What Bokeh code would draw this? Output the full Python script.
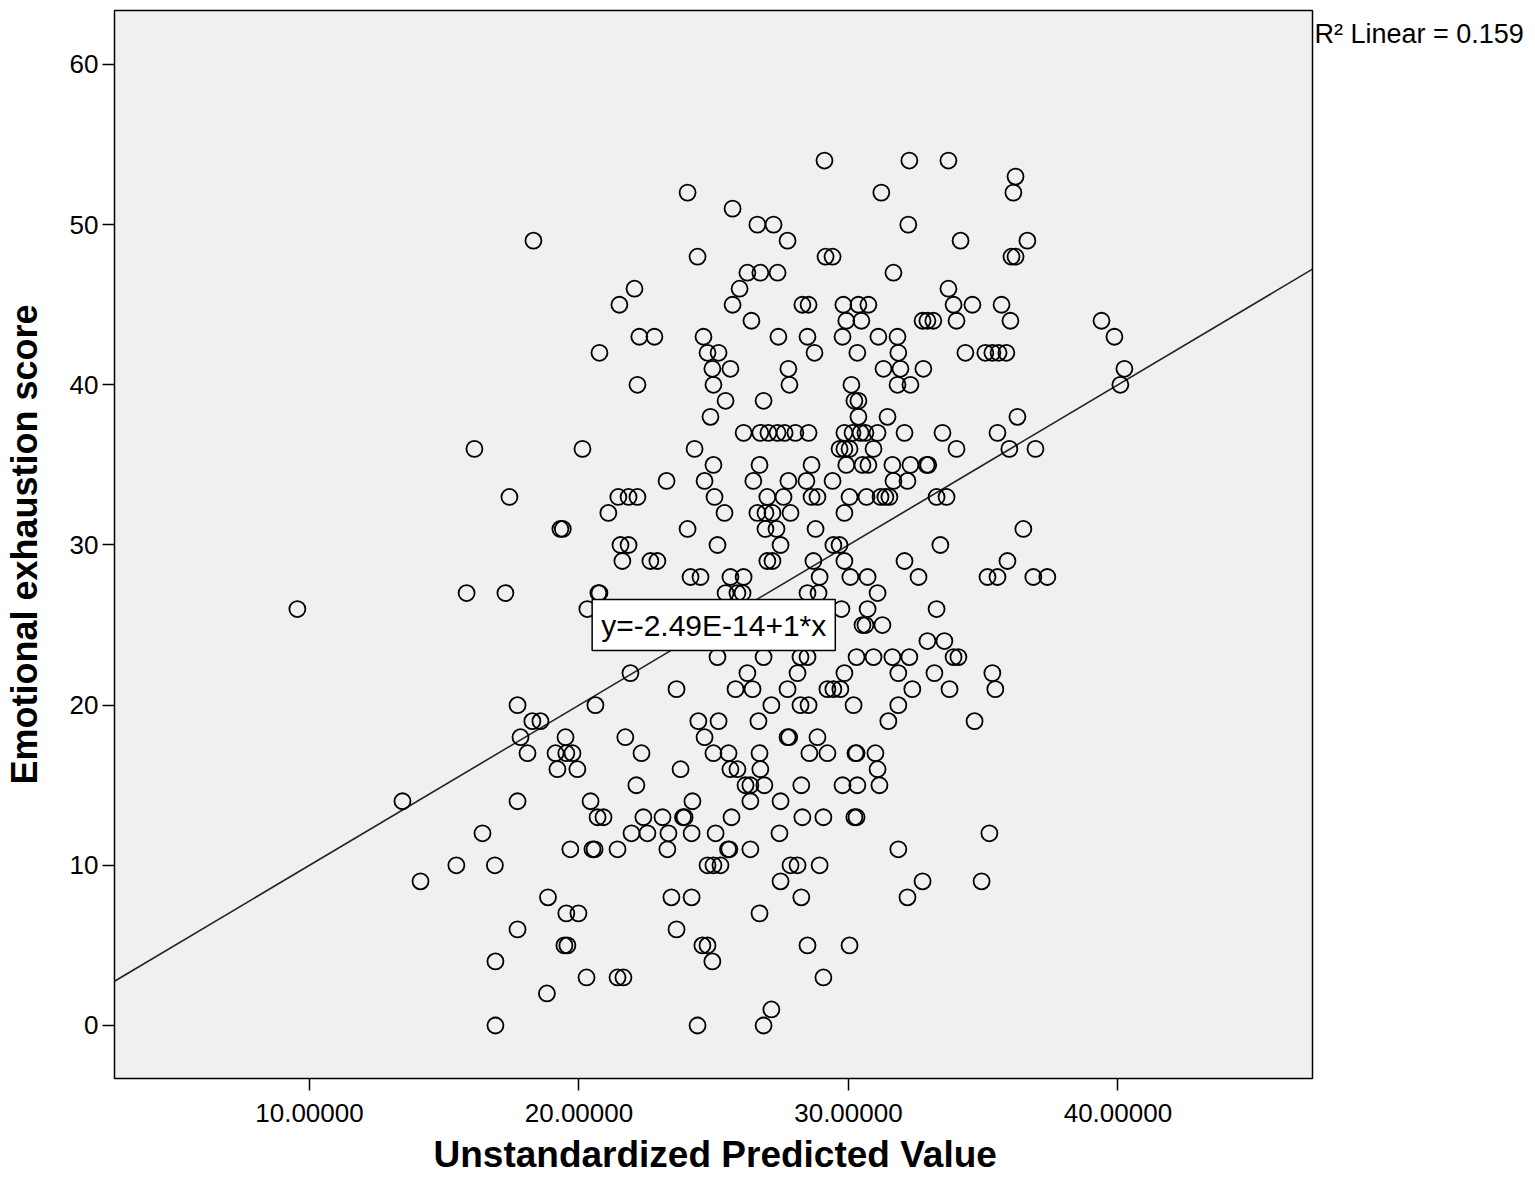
from bokeh.plotting import figure
from bokeh.models import Range1d, FixedTicker, PrintfTickFormatter, Label, Title
from bokeh.embed import file_html
from bokeh.resources import INLINE

# Unstandardized predicted value (x) for each case, grouped by score level
predicted_value = [
    29.11, 32.26, 33.71,
    36.20,
    24.03, 31.22, 36.12,
    25.70,
    26.62, 27.22, 32.22,
    18.31, 27.74, 34.16, 36.64,
    24.40, 29.15, 29.41, 36.05, 36.20,
    26.25, 26.73, 27.37, 31.67,
    22.06, 25.96, 33.71,
    21.50, 25.70, 28.29, 28.52, 29.81, 30.37, 30.74, 33.90, 34.60, 35.68,
    26.40, 29.92, 30.48, 32.75, 32.93, 33.15, 34.01, 36.01, 39.39,
    22.24, 22.80, 24.62, 27.40, 28.48, 29.78, 31.11, 31.82, 39.87,
    20.76, 24.77, 25.18, 28.74, 30.33, 31.85, 34.34, 35.08, 35.34, 35.57, 35.86,
    24.95, 25.62, 27.77, 31.30, 31.93, 32.78, 40.24,
    22.17, 24.99, 27.81, 30.11, 31.82, 32.30, 40.09,
    25.44, 26.85, 30.22, 30.37,
    24.88, 30.37, 31.45, 36.27,
    26.11, 26.73, 27.03, 27.37, 27.63, 28.03, 28.52, 29.85, 30.15, 30.45, 30.63, 31.08, 32.08, 33.49, 35.53,
    16.12, 20.13, 24.29, 29.67, 29.85, 30.04, 30.93, 34.01, 35.97, 36.94,
    24.99, 26.70, 28.63, 29.92, 30.52, 30.74, 31.63, 32.30, 32.90, 32.96,
    23.25, 24.66, 26.47, 27.77, 28.44, 29.41, 31.67, 32.19,
    17.42, 21.46, 21.84, 22.17, 25.03, 26.99, 27.59, 28.63, 28.85, 30.04, 30.67, 31.19, 31.37, 31.52, 33.27, 33.64,
    21.09, 25.40, 26.62, 26.92, 27.18, 27.85, 29.85,
    19.31, 19.40, 24.03, 26.92, 27.33, 28.78, 36.49,
    21.54, 21.84, 25.14, 27.48, 29.44, 29.67, 33.41,
    21.61, 22.65, 22.91, 26.99, 27.18, 28.70, 29.85, 32.08, 35.90,
    24.14, 24.51, 25.62, 26.11, 28.93, 30.07, 30.71, 32.60, 35.16, 35.53, 36.86, 37.38,
    15.83, 17.27, 20.72, 20.76, 25.44, 25.88, 26.07, 28.48, 28.89, 31.08,
    9.55, 20.31, 29.74, 30.71, 33.27,
    30.52, 30.63, 31.26,
    32.93, 33.56,
    25.14, 26.85, 28.22, 28.48, 30.30, 30.93, 31.63, 32.26, 33.90, 34.08,
    21.91, 26.25, 28.11, 29.85, 31.85, 33.19, 35.34,
    23.62, 25.81, 26.44, 27.74, 29.22, 29.44, 29.70, 32.37, 33.75, 35.45,
    17.72, 20.61, 27.14, 28.22, 28.52, 30.19, 31.85,
    18.27, 18.57, 24.43, 25.18, 26.66, 31.48, 34.68,
    17.83, 19.50, 21.72, 24.66, 27.74, 27.80, 28.85,
    18.09, 19.13, 19.53, 19.76, 22.32, 24.99, 25.55, 26.70, 28.55, 29.22, 30.26, 30.30, 31.00,
    19.20, 19.94, 23.77, 25.62, 25.88, 26.73, 31.08,
    22.13, 26.18, 26.36, 26.88, 28.25, 29.78, 30.33, 31.15,
    13.45, 17.72, 20.43, 24.21, 26.36, 27.48,
    20.69, 20.91, 22.39, 23.10, 23.86, 23.92, 25.66, 28.29, 29.07, 30.22, 30.30,
    16.42, 21.95, 22.54, 23.32, 24.18, 25.07, 27.44, 35.23,
    19.68, 20.50, 20.58, 21.43, 23.28, 25.53, 25.58, 26.36, 31.85,
    15.45, 16.88, 24.77, 24.99, 25.25, 27.85, 28.11, 28.93,
    14.12, 27.48, 32.75, 34.94,
    18.85, 23.43, 24.18, 28.25, 32.19,
    19.53, 19.98, 26.70,
    17.72, 23.62,
    19.46, 19.57, 24.58, 24.77, 28.48, 30.04,
    16.90, 24.95,
    20.28, 21.43, 21.65, 29.07,
    18.81,
    27.14,
    16.90, 24.40, 26.85,
]

# Emotional exhaustion score (y) for each case, same order
exhaustion_score = [
    54, 54, 54,
    53,
    52, 52, 52,
    51,
    50, 50, 50,
    49, 49, 49, 49,
    48, 48, 48, 48, 48,
    47, 47, 47, 47,
    46, 46, 46,
    45, 45, 45, 45, 45, 45, 45, 45, 45, 45,
    44, 44, 44, 44, 44, 44, 44, 44, 44,
    43, 43, 43, 43, 43, 43, 43, 43, 43,
    42, 42, 42, 42, 42, 42, 42, 42, 42, 42, 42,
    41, 41, 41, 41, 41, 41, 41,
    40, 40, 40, 40, 40, 40, 40,
    39, 39, 39, 39,
    38, 38, 38, 38,
    37, 37, 37, 37, 37, 37, 37, 37, 37, 37, 37, 37, 37, 37, 37,
    36, 36, 36, 36, 36, 36, 36, 36, 36, 36,
    35, 35, 35, 35, 35, 35, 35, 35, 35, 35,
    34, 34, 34, 34, 34, 34, 34, 34,
    33, 33, 33, 33, 33, 33, 33, 33, 33, 33, 33, 33, 33, 33, 33, 33,
    32, 32, 32, 32, 32, 32, 32,
    31, 31, 31, 31, 31, 31, 31,
    30, 30, 30, 30, 30, 30, 30,
    29, 29, 29, 29, 29, 29, 29, 29, 29,
    28, 28, 28, 28, 28, 28, 28, 28, 28, 28, 28, 28,
    27, 27, 27, 27, 27, 27, 27, 27, 27, 27,
    26, 26, 26, 26, 26,
    25, 25, 25,
    24, 24,
    23, 23, 23, 23, 23, 23, 23, 23, 23, 23,
    22, 22, 22, 22, 22, 22, 22,
    21, 21, 21, 21, 21, 21, 21, 21, 21, 21,
    20, 20, 20, 20, 20, 20, 20,
    19, 19, 19, 19, 19, 19, 19,
    18, 18, 18, 18, 18, 18, 18,
    17, 17, 17, 17, 17, 17, 17, 17, 17, 17, 17, 17, 17,
    16, 16, 16, 16, 16, 16, 16,
    15, 15, 15, 15, 15, 15, 15, 15,
    14, 14, 14, 14, 14, 14,
    13, 13, 13, 13, 13, 13, 13, 13, 13, 13, 13,
    12, 12, 12, 12, 12, 12, 12, 12,
    11, 11, 11, 11, 11, 11, 11, 11, 11,
    10, 10, 10, 10, 10, 10, 10, 10,
    9, 9, 9, 9,
    8, 8, 8, 8, 8,
    7, 7, 7,
    6, 6,
    5, 5, 5, 5, 5, 5,
    4, 4,
    3, 3, 3, 3,
    2,
    1,
    0, 0, 0,
]

assert len(predicted_value) == len(exhaustion_score)

fit_intercept = -2.49e-14
fit_slope = 1.0
equation_text = "y=-2.49E-14+1*x"
r2_text = "R\u00b2 Linear = 0.159"
x_title = "Unstandardized Predicted Value"
y_title = "Emotional exhaustion score"
x_ticks = [10, 20, 30, 40]
y_ticks = [0, 10, 20, 30, 40, 50, 60]

# extent of the shaded plot box (data units)
X_START, X_END = 2.764, 47.22
Y_START, Y_END = -3.31, 63.37
# the drawing frame is a little larger than the box so that the box border
# and the R-squared note (to the right of the box) are not clipped
PX_X = 1198 / (X_END - X_START)
PX_Y = 1068 / (Y_END - Y_START)
FRAME_X = (X_START - 4 / PX_X, X_END + 219 / PX_X)
FRAME_Y = (Y_START - 4 / PX_Y, Y_END + 4 / PX_Y)
FONT = "Liberation Sans"

p = figure(
    width=1533, height=1192,
    x_range=Range1d(*FRAME_X), y_range=Range1d(*FRAME_Y),
    output_backend="svg", toolbar_location=None,
    min_border_left=110, min_border_right=2,
    min_border_top=6, min_border_bottom=110,
)
p.background_fill_color = "white"
p.border_fill_color = "white"
p.outline_line_color = None
p.grid.visible = False

for ax in (p.xaxis[0], p.yaxis[0]):
    ax.axis_line_color = None
    ax.major_tick_line_color = "black"
    ax.major_tick_line_width = 1.5
    ax.major_tick_in = 4
    ax.major_tick_out = 8
    ax.minor_tick_line_color = None
    ax.major_label_text_font = FONT
    ax.major_label_text_font_size = "26px"
    ax.major_label_text_color = "black"
    ax.axis_label_text_font = FONT
    ax.axis_label_text_font_size = "36px"
    ax.axis_label_text_font_style = "bold"
    ax.axis_label_text_color = "black"

p.xaxis.ticker = FixedTicker(ticks=x_ticks)
p.xaxis.formatter = PrintfTickFormatter(format="%.5f")
p.xaxis.major_label_standoff = 13

p.yaxis.ticker = FixedTicker(ticks=y_ticks)
p.yaxis.major_label_standoff = 4
p.yaxis.axis_label = y_title
p.yaxis.axis_label_standoff = 22

# x-axis title, centred under the shaded box (not the wider frame)
p.add_layout(Title(text=x_title, align="left", offset=323, standoff=14,
                   text_font=FONT, text_font_size="37px", text_font_style="bold",
                   text_color="black"), "below")

# shaded plot box with black border
p.quad(left=[X_START], right=[X_END], bottom=[Y_START], top=[Y_END],
       fill_color="#F0F0F0", line_color="black", line_width=1.5)

# fit line across the whole box
line_x = [X_START, X_END]
line_y = [fit_intercept + fit_slope * v for v in line_x]
p.line(line_x, line_y, line_color="#222222", line_width=1.6)

p.scatter(predicted_value, exhaustion_score, marker="circle", size=16,
          fill_color=None, line_color="black", line_width=1.8)

p.add_layout(Label(x=25.0, y=25.0, text=equation_text, text_align="center",
                   text_baseline="middle", text_font=FONT, text_font_size="30px",
                   text_color="black", background_fill_color="white",
                   border_line_color="black", border_line_width=1.5, padding=9))

p.add_layout(Label(x=X_END, y=61.9, x_offset=2, text=r2_text, text_align="left",
                   text_baseline="middle", text_font=FONT, text_font_size="27px",
                   text_color="black"))

open("out.html", "w").write(file_html(p, INLINE))
